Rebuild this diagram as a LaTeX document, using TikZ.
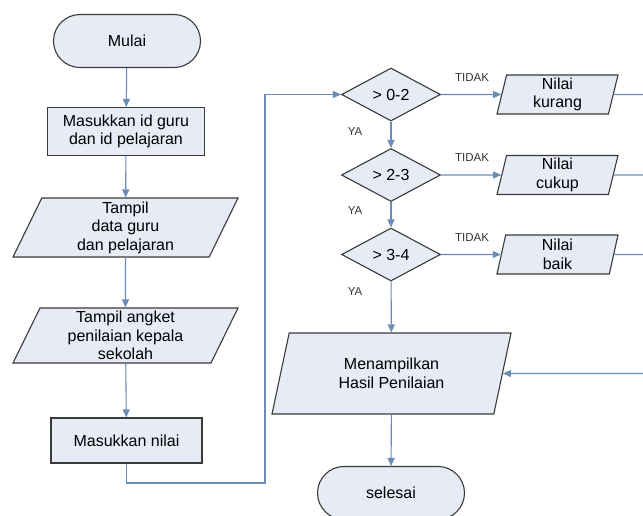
\documentclass[tikz,border=0pt]{standalone}
\usepackage{xcolor}
\usepackage{fontspec}
\setmainfont{Liberation Sans}
\usepackage{tikz}
\usetikzlibrary{shapes.geometric,shapes.misc,arrows.meta}
\definecolor{boxfill}{HTML}{E6EBF5}
\definecolor{flowline}{HTML}{6A8CB8}
\definecolor{boxedge}{HTML}{3A3A3A}
\tikzset{
  base/.style={draw=boxedge,fill=boxfill,line width=1.1pt,align=center,inner sep=0pt,
    font=\fontsize{16}{18.5}\selectfont},
  term/.style={base,rounded rectangle,minimum width=147pt,minimum height=53pt},
  proc/.style={base,rectangle,minimum height=48pt},
  io/.style 2 args={base,trapezium,trapezium stretches body,
    trapezium left angle=#1,trapezium right angle=#2},
  dec/.style={base,diamond,minimum width=99pt,minimum height=53pt},
  arr/.style={draw=flowline,line width=1.1pt,-{Triangle[length=8pt,width=7pt]}},
  conn/.style={draw=flowline,line width=1.1pt},
  lab/.style={font=\fontsize{11.5}{13}\selectfont,text=black!80,inner sep=0pt}
}
\begin{document}
\begin{tikzpicture}[x=1pt,y=-1pt]
\clip (0,0) rectangle (643,515);
\fill[white] (0,0) rectangle (643,515);
% left column
\node[term] (mulai) at (127,41) {Mulai};
\node[proc,minimum width=157pt] (id) at (126,131.5) {Masukkan id guru\\dan id pelajaran};
\node[io={61}{119},minimum width=225pt,minimum height=59pt] (data) at (125.5,227.5) {Tampil\\data guru\\dan pelajaran};
\node[io={61}{119},minimum width=225pt,minimum height=55pt] (angket) at (125.5,335.5) {Tampil angket\\penilaian kepala\\sekolah};
\node[proc,minimum width=151pt,minimum height=45pt] (nilai) at (126.5,440.5) {Masukkan nilai};
% right column
\node[dec] (d1) at (391,94.5) {> 0-2};
\node[dec] (d2) at (391,175) {> 2-3};
\node[dec] (d3) at (391,254.5) {> 3-4};
\node[io={74}{106},minimum width=121pt,minimum height=39pt] (kurang) at (557.5,94.5) {Nilai\\kurang};
\node[io={74}{106},minimum width=121pt,minimum height=39pt] (cukup) at (557.5,175) {Nilai\\cukup};
\node[io={74}{106},minimum width=121pt,minimum height=39pt] (baik) at (557.5,254.5) {Nilai\\baik};
\node[io={60.4}{119.6},minimum width=239pt,minimum height=81pt] (hasil) at (391.5,373.5) {Menampilkan\\Hasil Penilaian};
\node[term] (selesai) at (391,493) {selesai};
\coordinate (turn) at (265,483);
\coordinate (bus) at (665,373.5);
%Text
\node[lab] (t1) at (472,78) {TIDAK};
\node[lab] (t2) at (472,158) {TIDAK};
\node[lab] (t3) at (472,238) {TIDAK};
\node[lab] (y1) at (355,132) {YA};
\node[lab] (y2) at (355,211) {YA};
\node[lab] (y3) at (355,292) {YA};
% connectors
\draw[arr] (mulai) -- (id);
\draw[arr] (id) -- (data);
\draw[arr] (data) -- (angket);
\draw[arr] (angket) -- (nilai);
\draw[arr] (nilai) |- (turn) |- (d1);
\draw[arr] (d1) -- (d2);
\draw[arr] (d2) -- (d3);
\draw[arr] (d3) -- (hasil);
\draw[arr] (d1) -- (kurang);
\draw[arr] (d2) -- (cukup);
\draw[arr] (d3) -- (baik);
\draw[conn] (kurang) -- (kurang -| bus);
\draw[conn] (cukup) -- (cukup -| bus);
\draw[conn] (baik) -- (baik -| bus);
\draw[arr] (bus) -- (hasil);
\draw[arr] (hasil) -- (selesai);
\end{tikzpicture}
\end{document}
